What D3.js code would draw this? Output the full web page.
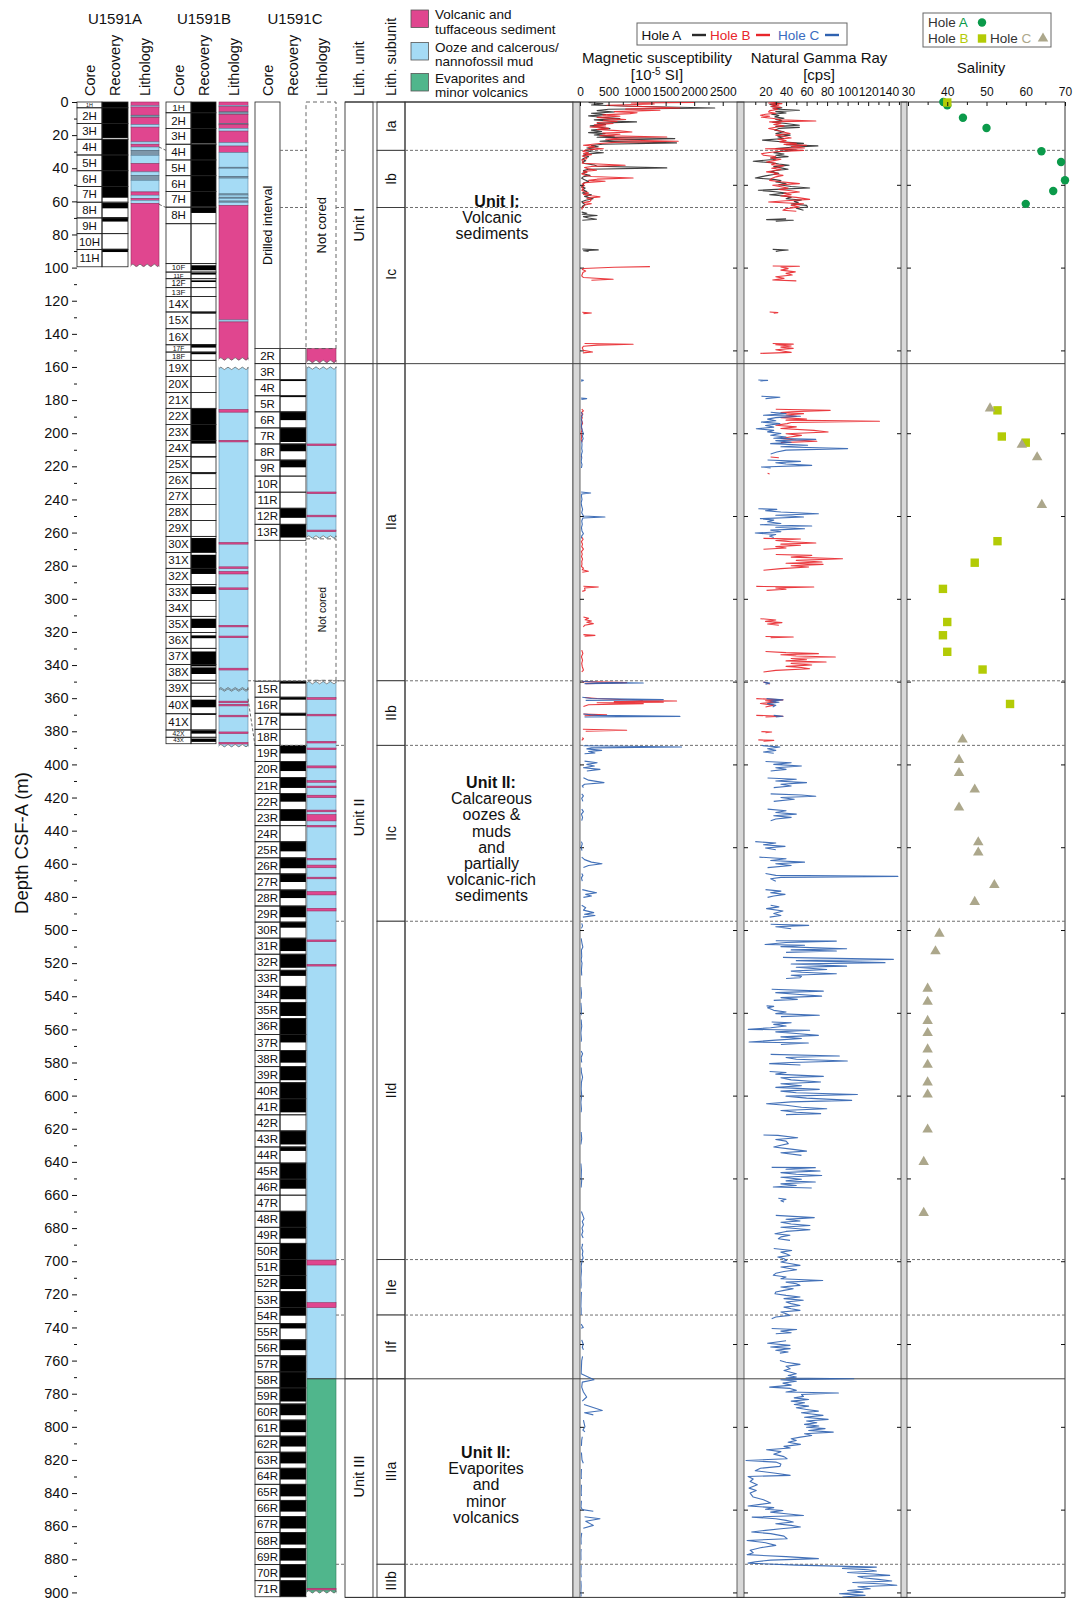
<!DOCTYPE html>
<html>
<head>
<meta charset="utf-8">
<title>Site U1591 lithostratigraphic summary</title>
<script src="https://cdn.jsdelivr.net/npm/d3@7/dist/d3.min.js"></script>
<style>
  html, body { margin: 0; padding: 0; background: #fff; }
  svg text { font-family: "Liberation Sans", Arial, Helvetica, sans-serif; }
</style>
</head>
<body>
<svg id="chart" width="1073" height="1600" viewBox="0 0 1073 1600"></svg>
<script>
// ---------------------------------------------------------------------------
// Data
// ---------------------------------------------------------------------------
const holeNames = ["U1591A", "U1591B", "U1591C"];
const columnTitles = ["Core", "Recovery", "Lithology"];

// Cores: [name, top (m), bottom (m)]
const coresA = [["1H",0,3.5],["2H",3.5,13],["3H",13,22.5],["4H",22.5,32],["5H",32,41.5],["6H",41.5,51],["7H",51,60.5],["8H",60.5,70],["9H",70,79.5],["10H",79.5,89],["11H",89,99.5]];
const coresB = [["1H",0,6.5],["2H",6.5,16],["3H",16,25.5],["4H",25.5,35],["5H",35,44.5],["6H",44.5,54],["7H",54,63.5],["8H",63.5,73.5],["",73.5,97.6],["10F",97.6,102.7],["11F",102.7,106.7],["12F",106.7,112.1],["13F",112.1,117.4],["14X",117.4,126.8],["15X",126.8,136.9],["16X",136.9,146.6],["17F",146.6,151],["18F",151,156],["19X",156,165.7],["20X",165.7,175.4],["21X",175.4,185],["22X",185,194.7],["23X",194.7,204.4],["24X",204.4,214],["25X",214,223.7],["26X",223.7,233.4],["27X",233.4,243],["28X",243,252.7],["29X",252.7,262.3],["30X",262.3,272],["31X",272,281.6],["32X",281.6,291.3],["33X",291.3,301],["34X",301,310.6],["35X",310.6,320.3],["36X",320.3,329.9],["37X",329.9,339.6],["38X",339.6,349.2],["39X",349.2,358.9],["40X",358.9,369.4],["41X",369.4,379.2],["42X",379.2,383.6],["43X",383.6,387.5]];
const coresC = [["2R",148.9,158],["3R",158,167.7],["4R",167.7,177.4],["5R",177.4,187.1],["6R",187.1,196.8],["7R",196.8,206.5],["8R",206.5,216.2],["9R",216.2,225.9],["10R",225.9,235.6],["11R",235.6,245.3],["12R",245.3,255],["13R",255,264.7],
["15R",349.7,359.4],["16R",359.4,369.1],["17R",369.1,378.8],["18R",378.8,388.5],["19R",388.5,398.2],["20R",398.2,407.9],["21R",407.9,417.6],["22R",417.6,427.3],["23R",427.3,437],["24R",437,446.7],["25R",446.7,456.4],["26R",456.4,466.1],["27R",466.1,475.8],["28R",475.8,485.5],["29R",485.5,495.2],["30R",495.2,504.9],["31R",504.9,514.6],["32R",514.6,524.3],["33R",524.3,534],["34R",534,543.7],["35R",543.7,553.4],["36R",553.4,563.1],["37R",563.1,572.8],["38R",572.8,582.5],["39R",582.5,592.2],["40R",592.2,601.9],["41R",601.9,611.6],["42R",611.6,621.3],["43R",621.3,631],["44R",631,640.7],["45R",640.7,650.4],["46R",650.4,660.1],["47R",660.1,669.8],["48R",669.8,679.5],["49R",679.5,689.2],["50R",689.2,698.9],["51R",698.9,708.6],["52R",708.6,718.3],["53R",718.3,728],["54R",728,737.7],["55R",737.7,747.4],["56R",747.4,757.1],["57R",757.1,766.8],["58R",766.8,776.5],["59R",776.5,786.2],["60R",786.2,795.9],["61R",795.9,805.6],["62R",805.6,815.3],["63R",815.3,825],["64R",825,834.7],["65R",834.7,844.4],["66R",844.4,854.1],["67R",854.1,863.8],["68R",863.8,873.5],["69R",873.5,883.2],["70R",883.2,892.9],["71R",892.9,902.6]];
const drilledC = [0, 148.9];
const uncoredC = [264.7, 349.7];

// Recovered intervals: [top, bottom]
const recoveredA = [[0,21.7],[22.6,57.8],[61,64.2],[69.6,72.2],[88.6,90.6]];
const recoveredB = [[0,25.1],[25.5,63.3],[63.6,67],[98.6,101.6],[103.2,104.2],[107.7,108.7],[126.8,127.8],[146.3,148.3],[151,152.3],[185.2,206.3],[214.1,214.7],[224.1,224.7],[263.3,271.8],[273.4,285],[292.5,297.1],[312,317.6],[322.1,323.8],[331.8,340.8],[341.4,345.4],[350.6,351.2],[360.9,365.5],[369.5,370.1],[379.4,381.4],[384.4,386.4]];
const recoveredC = [[167.7,168.5],[177.4,178.2],[187.1,192.1],[196.8,205.3],[206.5,210.9],[216.2,220.6],[245.3,251.1],[255,263],[349.7,351.2],[359.4,360.9],[369.1,370.6],[388.5,393.4],[398.2,404],[407.9,414.2],[417.6,422.5],[427.3,434.1],[446.7,452.5],[456.4,462.7],[466.1,471],[475.8,480.7],[485.5,492.3],[495.2,498.6],[504.9,512.7],[514.6,522.8],[524.3,527.7],[534,541.8],[543.7,551.9],[553.4,567.9],[572.8,580.1],[582.5,590.7],[592.2,610.1],[621.3,629.5],[631,633.4],[640.7,650.4],[650.4,656.2],[669.8,686.3],[689.2,716.8],[718.3,728],[728,732.9],[737.7,740.6],[747.4,753.7],[757.1,784.7],[786.2,793],[795.9,803.2],[805.6,811.9],[815.3,822.1],[825,831.8],[834.7,842],[844.4,851.2],[854.1,861.4],[863.8,871.1],[873.5,880.8],[883.2,891],[892.9,902.6]];

// Lithology intervals: [top, bottom, kind]  v = volcanic/tuffaceous, o = ooze/mud, e = evaporite, g = mixed dark bands
const lithA = [[0,2.3,"v"],[2.3,3,"o"],[3,8,"v"],[8,9.4,"g"],[9.4,13.7,"v"],[13.7,15.2,"o"],[15.2,24.1,"v"],[24.1,25.5,"o"],[25.5,27.2,"v"],[27.2,29.2,"o"],[29.2,32.2,"g"],[32.2,37.2,"o"],[37.2,42.2,"v"],[42.2,44.3,"o"],[44.3,47.3,"g"],[47.3,54.3,"o"],[54.3,56.3,"v"],[56.3,58.3,"o"],[58.3,59.4,"v"],[59.4,61.2,"o"],[61.2,99.5,"v"]];
const lithB = [[0,2,"v"],[2,2.8,"o"],[2.8,6,"v"],[6,7.5,"g"],[7.5,13,"v"],[13,13.6,"g"],[13.6,16,"v"],[16,17.6,"o"],[17.6,24.6,"v"],[24.6,26.6,"o"],[26.6,30.6,"v"],[30.6,39.4,"o"],[39.4,40,"g"],[40,45,"o"],[45,46,"g"],[46,55.5,"o"],[55.5,56.2,"g"],[56.2,57.5,"o"],[57.5,58.2,"g"],[58.2,59.8,"o"],[59.8,60.6,"g"],[60.6,62.5,"o"],[62.5,131.6,"v"],[131.6,132.8,"o"],[132.8,156,"v"],
  [160,389.5,"o"],[185.7,187.3,"v"],[204.3,205,"v"],[266,266.8,"v"],[280.7,281.5,"v"],[283.5,285,"v"],[293.4,294,"v"],[316,316.8,"v"],[322.5,323.3,"v"],[341.9,343,"v"],[361.8,362.6,"v"],[363.7,364.3,"v"],[370.3,371.1,"v"],[380.4,381,"v"],[386.7,387.3,"v"]];
const lithC = [[148.9,157.5,"v"],[159.8,263.5,"o"],[206.5,207.3,"v"],[235.5,236.3,"v"],[249.5,250.5,"v"],[258.5,259.3,"v"],
  [349.8,771,"o"],[359.7,360.5,"v"],[369.7,370.7,"v"],[386.1,386.9,"v"],[390.1,390.7,"v"],[400.9,402.1,"v"],[409.8,410.4,"v"],[413.1,413.9,"v"],[418.6,420,"v"],[427.6,428.6,"v"],[430.3,434.1,"v"],[436.8,437.4,"v"],[456.7,457.3,"v"],[460.8,462.4,"v"],[468.1,468.7,"v"],[476.8,478.8,"v"],[486.9,488.5,"v"],[506,507,"v"],[520.8,521.4,"v"],[699.3,702.3,"v"],[725,728,"v"],
  [771,900.5,"e"],[897.5,898.5,"v"]];

// Lithostratigraphic units and subunits
const unitNames = ["Unit I", "Unit II", "Unit III"];
const unitTops = [0, 158, 771];
const subunitNames = ["Ia","Ib","Ic","IIa","IIb","IIc","IId","IIe","IIf","IIIa","IIIb"];
const subunitTops = [0, 29.2, 63.7, 158, 349.5, 388.5, 494.7, 699, 732.5, 771, 883];
const bottomDepth = 903;

const unitText = [
  ["Unit I:", "Volcanic", "sediments"],
  ["Unit II:", "Calcareous", "oozes &", "muds", "and", "partially", "volcanic-rich", "sediments"],
  ["Unit II:", "Evaporites", "and", "minor", "volcanics"]
];
const legendLabels = [["Volcanic and", "tuffaceous sediment"], ["Ooze and calcerous/", "nannofossil mud"], ["Evaporites and", "minor volcanics"]];

// Magnetic susceptibility [10^-5 SI]: segments of [depth, value]
const msHoleA = [
  [[0.3,150],[1,400],[1.8,200],[2.6,900],[3.6,2360],[4.4,500],[5.2,300],[6,600],[6.8,200],[7.6,450],[8.4,150],[9.2,380],[10,700],[10.8,250],[11.5,500],[12,990],[12.8,300],[13.6,450],[14.4,180],[15.2,350],[16.1,525],[17,200],[17.8,380],[18.5,150],[19.1,440],[19.9,250],[20.6,600],[21.3,300],[22.1,1660],[22.9,600],[23.7,350],[24.7,1690],[25.5,400],[26.3,200],[27,320],[27.8,120],[28.5,250],[29.3,80],[30,200],[30.6,410],[31.4,120],[32.2,60],[33,150],[33.8,80],[34.6,40],[35.5,100],[36.3,40],[37.1,80],[38,250],[38.8,300],[39.8,1520],[40.6,150],[41.4,60],[42.2,120],[43,40],[43.6,90],[44.3,175],[45.1,60],[46,30],[47,80],[48,150],[49,60],[50.3,60],[51.2,30],[52,90],[53,50],[54,120],[55,40],[56,200],[57,80],[58.4,230],[59.3,100],[60.2,30],[61,50],[62,90],[63,40],[64,60]],
  [[66.5,30],[67.2,120],[67.8,40],[68.5,300],[69.2,60],[70,150],[70.8,290],[71.4,40]],
  [[88.8,40],[89.3,320],[89.8,60],[90.3,150]]
];
const msHoleB = [
  [[0.2,2010],[0.6,900],[1.2,1300],[2,470],[2.8,1100],[3.6,1750],[4.3,800],[5,1400],[5.8,600],[6.5,1000],[7,875],[7.8,400],[8.6,700],[9.3,300],[10,525],[10.6,800],[11,410],[11.8,650],[12.4,300],[13,580],[13.8,250],[14.5,450],[15.1,175],[15.9,500],[16.6,300],[17.3,650],[18.1,910],[18.8,400],[19.5,700],[20.3,350],[21.1,1520],[21.8,700],[22.5,450],[23.1,900],[23.7,1720],[24.4,600],[25.2,300],[26.1,60],[26.8,250],[27.5,150],[28.2,410],[29,100],[29.8,50],[30.6,150],[31.2,60],[31.8,200],[32.6,40],[33.4,100],[34.2,120],[35,30],[36,60],[37,40],[38.2,790],[38.9,200],[39.6,80],[40.4,150],[41.2,290],[41.9,60],[42.6,120],[43.4,30],[44.2,80],[45,200],[45.9,930],[46.6,300],[47.3,150],[47.9,440],[48.7,90],[49.5,40],[50.5,80],[51.5,30],[52.5,60],[53.3,30],[54.2,80],[55,150],[55.8,60],[56.6,200],[57.3,350],[58.1,120],[59,200],[60,175],[60.7,60],[61.4,200],[62.2,80],[63.4,60],[64.2,30],[65,40]],
  [[99.4,1225],[99.8,600],[100.5,60],[101.2,40],[102,100],[103,50],[104,40],[105,30],[106,60],[107,580],[107.6,200]],
  [[127,40],[127.4,200],[127.8,60]],
  [[145.8,80],[146.3,930],[146.8,300],[147.5,60],[148.5,40],[150,60],[151,220],[151.5,50]],
  [[185.5,30],[186.5,60],[187.5,25],[188.5,50],[189.5,20],[190.5,40],[192,25],[194,45],[196,20],[198,35],[200,15],[202,30],[204,20],[205.5,40]],
  [[213.8,20],[214.6,30]],
  [[262.7,30],[264,55],[265.5,25],[267,45],[268.5,30],[270,60],[271.5,25],[273,40],[274.5,25],[276,45],[277.5,30],[279,35],[280.5,25],[281.5,60],[282.5,40],[283.4,146],[284,40]],
  [[292.4,60],[292.9,321],[293.5,80],[294.9,90],[295.5,40]],
  [[311,60],[311.8,150],[312.6,90],[313.4,200],[314.2,120],[315,233],[316,80],[317,60]],
  [[321.6,60],[322.1,262],[322.6,80]],
  [[331,30],[333,50],[335,25],[337,45],[339,30],[341,40],[343,60],[344.2,30]],
  [[350,40],[350.6,817],[351.2,100]],
  [[359.6,80],[360.2,300],[360.8,700],[361.4,1100],[361.7,1692],[362.1,600],[362.4,1458],[362.8,300],[363.3,1108],[364,150],[365,60]],
  [[369.6,60],[370.1,467],[370.6,80]],
  [[378.8,50],[379.4,817],[380,100]],
  [[383.8,40],[384.5,60],[385.5,30]]
];
const msHoleC = [
  [[167.8,20],[168.1,58],[168.6,20]],
  [[178.8,20],[179.1,117],[179.6,25]],
  [[187.3,25],[189,40],[191,20],[193,35],[195,25],[197,30],[199,45],[200.3,60],[201.5,40],[203.3,55],[205,30],[207,35],[209.3,30],[211,40],[213,25],[215,30],[217,20],[219,35],[221,25]],
  [[235.5,20],[236.1,187],[236.7,30],[238,25],[240,35],[242,20],[244,30],[246,45],[248,30],[250,60],[250.6,437],[251.2,50],[253,30],[255,40],[257,25],[259,35],[260.7,60],[262,30],[263.5,25]],
  [[349.8,40],[350.4,300],[350.8,1108],[351.2,80]],
  [[359.4,40],[360.2,200],[360.9,1458],[361.3,100]],
  [[369.6,60],[370.4,300],[371,1750],[371.4,80]],
  [[388.7,60],[389.5,1779],[390,200],[390.6,120],[391.5,379],[392.2,150],[393.1,262],[393.6,80]],
  [[398,80],[399,300],[400,120],[401,250],[402,60],[403,350],[404,120]],
  [[408,60],[409.5,150],[411,420],[412,80],[413,40],[414,60]],
  [[417.8,30],[419,60],[420.5,30],[422.3,50]],
  [[427,30],[428.5,60],[430,25],[432,45],[434,30]],
  [[446.6,25],[448,40],[450,20],[452,35]],
  [[456,30],[457.5,80],[459,200],[460,385],[461,150],[462.3,60]],
  [[465.9,30],[467,50],[468.5,25],[470.5,40]],
  [[475.6,40],[476.5,150],[477.5,290],[478.5,100],[479.5,200],[480.3,60]],
  [[485,30],[486.5,100],[488,60],[489.5,240],[490.5,80],[491.2,262],[492.2,50]],
  [[496,30],[497.5,45],[499,25]],
  [[505,20],[508,35],[510.3,50],[512,25],[516,30],[518,20],[520,35],[524,25],[527.5,30]],
  [[534.5,15],[538,25],[541.5,20]],
  [[544,15],[548,25],[551.5,20]],
  [[554,20],[558,30],[562,15],[566,25],[567.5,20]],
  [[573,20],[574.7,45],[577,20],[580,30]],
  [[583,20],[586,25],[588.8,45],[592,25],[596,20],[600,30],[604,15],[608,25],[610,20]],
  [[622,20],[626,30],[629.5,15]],
  [[641,15],[645,25],[650,20],[651,30],[655.5,20]],
  [[670,25],[674.3,70],[676,40],[678,60],[680,35],[682,50],[684,30],[686,55]],
  [[689.5,35],[690,45],[692,30],[694,50],[696,40],[698,55],[699.5,35],[701,30],[703,20],[706,25],[710,15],[714,20],[716.5,15]],
  [[718.5,25],[722,20],[727.5,15],[728.5,20],[732.5,20]],
  [[738,20],[740,58],[740.5,20]],
  [[747.5,30],[750,55],[752,40],[753.5,60]],
  [[757.5,45],[760,30],[764,25],[768,20],[771.6,245],[773,40],[776,30],[779,60],[782,117],[784.5,40]],
  [[786.5,70],[790.1,391],[791.5,80],[792.8,233]],
  [[796,60],[800,87],[802,50],[803,87]],
  [[806,40],[808,30],[811.5,25]],
  [[815.5,25],[820,35],[822,58]],
  [[825.5,25],[830,20],[831.5,25]],
  [[835,25],[840,20],[841.8,25]],
  [[844.6,25],[848.4,17],[850,40],[851,233]],
  [[854.3,80],[855.5,350],[857,100],[859.5,233],[861.2,58]],
  [[864,30],[867.6,17],[871,20]],
  [[873.8,20],[876,15],[880.6,17]],
  [[883.5,20],[888,15],[890.8,20]],
  [[893,15],[896,20],[900,15],[902.5,20]]
];

// Natural gamma ray [cps]: segments of [depth, value]
const ngrHoleA = [
  [[0.3,28],[0.8,34],[1.4,24],[2,30],[2.8,26],[3.5,36],[4.2,28],[5,53],[5.8,30],[6.6,40],[7.4,26],[8.2,33],[9,29],[9.8,38],[10.6,30],[11.4,36],[12.2,27],[13,40],[14,53],[14.7,30],[15.3,53],[16,33],[17,29],[18,38],[19,30],[20,44],[21,32],[22,38],[23,17],[24,35],[25,57],[25.8,40],[26.5,71],[27.3,45],[28.1,30],[29,50],[29.8,35],[30.6,28],[31.4,38],[32.2,30],[33,42],[33.8,25],[34.6,30],[35.8,8],[36.6,25],[37.4,33],[38.2,43],[39,28],[39.8,35],[40.6,42],[41.4,30],[42.2,25],[43,33],[43.8,28],[44.6,20],[45.9,10],[46.7,28],[47.5,35],[48.3,30],[49.1,40],[50,33],[51,45],[51.9,63],[52.6,35],[53.3,13],[54.2,30],[55,40],[56,24],[56.8,38],[57.6,45],[58.4,40],[59.2,55],[60,48],[60.8,52],[61.6,45],[62.4,60],[63.4,61],[64.2,50],[65.4,57]],
  [[70.6,40],[71,21],[71.4,47],[72,30]],
  [[89,27],[89.4,42],[89.8,34],[90.2,30]]
];
const ngrHoleB = [
  [[0.2,30],[0.6,23],[1,36],[1.5,26],[2,33],[2.6,25],[3.2,35],[3.8,27],[4.5,32],[5.2,24],[6,23],[6.8,30],[7.4,20],[8,15],[8.6,24],[9.2,16],[10,28],[10.8,35],[11.5,69],[12,24],[12.8,35],[13.6,28],[14.4,38],[15.2,30],[16,23],[17,31],[18,36],[19,44],[20,30],[20.8,38],[21.7,45],[22.5,32],[23.3,40],[24.1,34],[25,50],[25.6,38],[26.1,60],[26.9,45],[27.8,58],[28.2,20],[28.7,40],[29.2,57],[30,30],[30.6,22],[31.2,16],[32.2,18],[33,30],[33.8,25],[34.6,35],[35.4,28],[36.2,21],[37,30],[37.8,26],[38.5,38],[39.2,34],[40,26],[40.8,35],[41.5,28],[42.2,21],[43,32],[43.6,28],[44.3,37],[45.2,30],[46.2,26],[47.3,24],[48.2,35],[49.3,53],[50.3,27],[51.2,35],[52,42],[52.8,33],[53.6,45],[54.3,53],[55.2,38],[56,45],[56.8,35],[57.6,50],[58.8,63],[59.6,40],[60.4,23],[61.4,57],[62.4,45],[63.4,53],[64.4,40],[65.4,37],[66,50]],
  [[99,27],[99.2,53],[99.6,35],[100.6,42],[101.5,35],[102.6,49],[103.5,40],[104.5,46],[105.5,30],[106.5,38],[107.5,27],[108,50]],
  [[126.8,24],[127.2,32],[127.6,28]],
  [[145.8,27],[146.2,47],[146.6,30],[147.3,45],[148,35],[148.8,47],[149.6,30],[150.5,38],[151.2,45],[151.8,15]],
  [[185.5,30],[186.2,83],[187,45],[187.6,35],[188.2,57],[189,40],[189.8,50],[190.6,35],[191.4,60],[192.1,40],[192.8,131],[193.5,45],[194.2,41],[195.2,30],[196.2,50],[197.2,35],[198.3,67],[199.3,81],[200.3,40],[201.3,55],[202.3,44],[203.2,35],[204.1,50],[204.9,70],[205.7,35]],
  [[214.4,25],[214.8,33]],
  [[224.2,22],[224.6,24]],
  [[263.5,18],[263.9,54],[264.8,30],[265.5,45],[266.3,69],[267,35],[267.7,54],[268.5,30],[269.3,40],[270.1,18]],
  [[273.2,30],[273.8,65],[274.8,45],[275.8,95],[276.8,50],[277.8,75],[278.5,40],[279.2,76],[280,45],[280.8,62],[281.8,35],[282.8,18]],
  [[292.5,11],[292.9,67],[293.5,30],[294.2,40],[294.9,21]],
  [[312,15],[312.8,30],[313.6,20],[314.4,36],[315.2,22],[316,33]],
  [[322.8,20],[323.1,47],[323.5,25]],
  [[331.8,20],[332.5,40],[333.1,71.5],[333.8,35],[334.5,50],[335.1,88],[336,45],[336.8,60],[337.5,40],[338.2,79],[339,45],[340,65],[340.8,40],[341.5,55],[342.2,63],[343.2,30],[344.2,18]],
  [[350.3,18],[350.9,22],[351.6,24]],
  [[360.3,11],[361,37],[361.6,20],[362.4,30],[363.2,15],[364.2,28],[365.3,20]],
  [[370.4,11],[370.9,37],[371.4,20]],
  [[380.2,16],[380.4,26],[380.8,20]],
  [[385.2,13],[385.5,28],[386,18]]
];
const ngrHoleC = [
  [[167.9,13],[168.1,22],[168.4,15]],
  [[177.7,16],[178.3,34],[179.1,20]],
  [[187.3,25],[188.2,40],[189.2,18],[189.8,54],[190.6,30],[191.5,22],[192.5,30],[193.3,16],[194.2,34],[195.3,20],[196.3,28],[197.3,11],[198.3,28],[199.2,22],[200.2,35],[201.2,25],[202.3,40],[203,28],[203.7,69],[204.5,30],[205.5,45],[206.3,25],[207.3,61],[208.2,35],[209.3,100],[210.2,40],[211.4,31],[212.5,25]],
  [[216.2,22],[217,54],[217.8,30],[218.6,40],[219.4,65],[220.4,16],[221,25]],
  [[245.6,13],[246,31],[246.8,20],[247.6,35],[248.6,71.5],[249.5,30],[250.6,57],[251.6,15],[252.5,28],[253.5,22],[254.5,35],[255.3,15],[256,65],[256.8,30],[257.7,58],[258.5,25],[259.5,35],[260.3,10],[261.2,30],[262.1,24],[263,28]],
  [[350.3,18],[350.9,24],[351.6,20]],
  [[360.3,21],[361,37],[361.7,25],[362.5,33],[363.3,22],[364.3,30],[365.3,27]],
  [[370.4,28],[370.9,37],[371.4,30]],
  [[388.6,16],[389.5,34],[390.5,22],[391.5,30],[392.5,18],[393.3,28]],
  [[398.2,20],[399,45],[400,28],[401,55],[402,30],[403,40],[404,25]],
  [[408.2,22],[409,50],[410,30],[411,60],[412,35],[413,45],[414,28]],
  [[417.8,25],[418.5,55],[419.2,69],[420,35],[421,48],[422.3,28]],
  [[427,22],[428,40],[429,30],[430,50],[431,28],[432,45],[433,30],[434,25]],
  [[446.6,10],[447.5,30],[448.5,18],[449.5,39],[450.5,20],[451.5,30]],
  [[456,14],[457,40],[458,25],[459,58],[460,30],[461,45],[462.3,22]],
  [[465.9,20],[467,30],[467.6,149],[468.2,35],[469,25],[470.5,30]],
  [[475.6,20],[476.5,35],[477.5,25],[478.5,39],[479.5,28],[480.3,22]],
  [[485,25],[486,33],[487.1,21],[488.5,37],[490,28],[491.2,35],[492.2,24]],
  [[496.5,25],[497.2,62],[498,30],[499.2,45]],
  [[506.5,30],[506.7,89],[507.5,40],[508.7,19.5],[509.2,58],[510,35],[511.3,99],[512,45],[512.7,89],[513.5,40]],
  [[516.5,37],[516.7,48],[517.7,144.6],[518.5,50],[519.7,136.4],[520.5,45],[521.8,99],[522.5,50],[523.8,79.6],[524.8,45],[525.5,55],[526.4,89],[527.3,45],[528,55],[528.8,53.6],[529.3,40]],
  [[535.8,26],[536.9,76.3],[537.8,30],[538.8,50],[539.9,74.7],[540.8,35],[541.9,51],[542.5,28]],
  [[545.8,21],[546.1,28],[547,22],[548.5,28],[549.5,40],[550.5,30],[551.5,72.4],[552.3,35]],
  [[555.5,26],[556,45],[557,28],[558,40],[559,25],[560,3.2],[560.5,63],[561.5,30],[562.5,50],[563.6,71.5],[564.5,35],[565.5,55],[566.5,30],[567.6,4],[568.2,61.7],[569.1,35]],
  [[575.1,25],[576.1,91.9],[577,40],[578,50],[579.1,99.7],[580,45],[580.7,24],[581.5,54]],
  [[585.4,24],[586,40],[587,30],[588.4,76.3],[589.2,35],[590.5,45],[591.8,73.7],[592.8,35],[594,55],[595,30],[596.2,72.4],[597.3,35],[598.3,50],[599.3,109.5],[600.3,40],[601.5,60],[602.9,103.9],[603.8,45],[604.9,21],[605.8,40],[607,55],[607.9,79.6],[609,35],[610,50],[610.9,73.7],[611.5,40]],
  [[623.8,18],[624,32],[625.4,51.3],[626.5,30],[627.5,40],[629,42.2],[630,35],[631,28],[632.3,45],[633.5,60],[634.5,35],[636.1,55]],
  [[643.3,26],[643.5,68.5],[644.5,40],[645.5,73.1],[646.5,35],[647.5,50],[648.2,74.7],[649.3,35],[650.5,55],[651.5,40],[652.2,68.5],[653.3,35],[654.3,50],[655.2,27.6],[655.8,65]],
  [[662,32.5],[662.6,40],[663.5,35],[664.3,38]],
  [[672.3,30],[673.7,67.5],[674.7,40],[675.7,53.6],[676.5,35],[677.5,45],[678.4,63.3],[679.5,35],[681,63.3],[682,40],[683.4,29.2],[684.3,43.8],[685.3,35],[686.4,32.5],[687.4,43.8]],
  [[692.3,28],[693.5,45.5],[694.5,35],[695.5,40],[696.5,43.8],[697.5,32],[698.5,38],[699.5,40.6],[700.5,35],[701.5,45],[702.5,53.6],[703.5,35],[705.1,50.3],[706.2,38],[707.3,30],[708.5,27.6],[709.5,40],[710.6,35],[711.6,75.7],[712.6,40],[713.6,50],[714.6,53.6],[715.6,35],[716.6,47],[717.6,38],[718.6,30],[719.6,29.2],[720.6,40],[721.6,53.6],[722.6,38],[723.6,56.8],[724.6,40],[725.6,45],[726.7,53.6],[727.7,38],[728.7,45],[729.7,53.6],[730.7,35],[731.7,40],[732.7,43.8],[733.7,30],[734.7,26]],
  [[740.6,26],[741.2,50.3],[742.2,35],[743.2,45],[743.8,30]],
  [[748,40],[749.5,22],[750.8,43.8],[751.8,25],[752.8,44],[753.8,30],[754.8,42],[755.5,34]],
  [[760,34],[761,40],[762.3,53.6],[763.5,40],[764.9,44],[766,38],[767.9,50],[769,42],[769.9,50],[770.5,40],[771,106],[771.6,35],[772.5,50],[773.6,37],[774.8,45],[776,24],[776.8,44],[778,50],[779,40],[779.6,91],[780.5,55],[781.6,57],[782.5,48],[783.5,62],[784.5,45],[785.5,58],[786.5,48],[787.5,62],[788.5,50],[789.5,60],[790.5,71.5],[791.5,55],[792.3,65],[793.1,76],[794.2,58],[795.5,81],[796.5,60],[797.5,70],[798.5,58],[799.5,72],[800.3,60],[801.1,78],[802.2,62],[803.2,86],[804.2,58],[805.2,65],[806.2,54],[807.2,45],[808.2,50],[809.3,42],[810.6,54],[811.8,38],[812.8,44],[813.8,21],[815,35],[816.5,28],[818,38],[819.3,41],[820.3,1],[821.3,30],[822.5,35],[823.9,34],[825,15],[826.5,10],[828,30],[829.3,44],[830,3],[831.5,8],[833,5],[835,12],[837,4],[838.4,11],[840,5],[842.4,8],[844,18],[846,25],[847.8,3],[848.8,28],[849.8,20],[850.5,37],[851.5,25],[852.5,40],[853.5,57],[854.5,7],[855.5,30],[856.5,40],[857.5,47],[858.5,30],[859.5,45],[860.5,54],[861.5,35],[862.5,20],[863.5,6.5],[864.5,25],[866,38],[867.6,41],[868.6,2],[870,20],[871.6,30],[873,15],[874.5,5],[876,8],[877.2,2],[878.4,40],[879.6,71.5],[880.5,25],[881.5,10],[882.3,3],[883.5,50],[884.7,128],[885.5,95],[886.3,120],[887.1,128],[888,100],[888.9,125],[889.7,141],[890.4,110],[891.1,115],[892.1,130],[893.1,143],[894,105],[894.9,135],[895.7,148],[896.6,110],[897.8,122],[898.8,100],[899.8,115],[900.8,92],[901.8,117],[902.8,95]]
];

// Salinity: [depth, value]
const salinityA = [[0,39],[2,40],[9.5,44],[15.7,50],[29.7,64],[36.2,69],[47.2,70],[53.7,67],[61.5,60]];
const salinityB = [[0.3,40],[186.2,52.8],[202,53.9],[205.7,60],[265.2,52.8],[278.2,47],[294,38.9],[314,40],[322,38.9],[332,40],[342.7,49],[363.5,56]];
const salinityC = [[185,50.9],[207,59],[214.5,62.9],[243.3,64.1],[385,43.9],[397.3,43],[405.2,43],[415.2,47],[426,43],[447,47.9],[453.2,47.9],[472.8,52],[483,47],[502.2,38],[512.8,37],[535.4,35],[543.3,35],[554.9,35],[562.2,35],[572.1,35],[581.4,35],[592,35],[599.3,35],[620.5,35],[640,34],[670.8,34]];

// Axis ticks
const depthTicks = d3.range(0, 901, 20);
const msTicks = [0, 500, 1000, 1500, 2000, 2500];
const ngrTicks = [20, 40, 60, 80, 100, 120, 140];
const salTicks = [30, 40, 50, 60, 70];

// ---------------------------------------------------------------------------
// Layout and scales
// ---------------------------------------------------------------------------
const svg = d3.select("#chart");
const depth = d3.scaleLinear().domain([0, bottomDepth]).range([102, 1597.4]);
const xMS = d3.scaleLinear().domain([0, 2750]).range([580, 737]);
const xNGR = d3.scaleLinear().domain([0, 152]).range([745, 901]);
const xSal = d3.scaleLinear().domain([30, 70]).range([908, 1065]);

const X = {
  coreA: [77, 102], recA: [102, 128], lithA: [131, 159],
  coreB: [166, 191], recB: [191, 216], lithB: [219, 248],
  coreC: [255, 280], recC: [280, 306], lithC: [307, 336],
  unit: [345, 373], sub: [377, 405], desc: [405, 573],
  barMS: [573, 580], barNGR: [737, 744], barSal: [901, 907],
  ms: [580, 737], ngr: [744, 901], sal: [907, 1065]
};
const TOP = depth(0), BOT = depth(bottomDepth);
const FILL = { v: "#e0468f", o: "#a5dbf5", e: "#50b68c", g: "#7d97aa" };
const EDGE = { v: "#98305f", o: "#5d88a2", e: "#2f7c5d", g: "#4d6577" };
const RED = "#e8262b", BLUE = "#2f62b0", GREEN = "#0b9a4a", LIME = "#b3cb06", TAN = "#aca78b";

const base = svg.append("g");
const mid = svg.append("g");
const over = svg.append("g");

function rect(g, x0, x1, d0, d1, fill, stroke, sw) {
  return g.append("rect")
    .attr("x", x0).attr("y", depth(d0))
    .attr("width", x1 - x0).attr("height", Math.max(depth(d1) - depth(d0), 0.5))
    .attr("fill", fill).attr("stroke", stroke || "none").attr("stroke-width", sw || 0);
}
function hline(g, x0, x1, d, color, width, dash) {
  const l = g.append("line").attr("x1", x0).attr("x2", x1)
    .attr("y1", depth(d)).attr("y2", depth(d))
    .attr("stroke", color).attr("stroke-width", width);
  if (dash) l.attr("stroke-dasharray", dash);
  return l;
}
function vtext(g, x, yy, str, size, anchor) {
  return g.append("text")
    .attr("transform", `translate(${x},${yy}) rotate(-90)`)
    .attr("text-anchor", anchor || "middle")
    .attr("dominant-baseline", "central")
    .attr("font-size", size).attr("fill", "#111").text(str);
}

// ---------------------------------------------------------------------------
// Core, recovery and lithology columns
// ---------------------------------------------------------------------------
function drawHole(cores, recovered, cx, rx) {
  const g = base.append("g");
  cores.forEach(([, t, b]) => {
    rect(g, cx[0], cx[1], t, b, "#fff");
    rect(g, rx[0], rx[1], t, b, "#fff");
  });
  recovered.forEach(([t, b]) => rect(g, rx[0], rx[1], t, b, "#000"));
  cores.forEach(([name, t, b]) => {
    rect(g, cx[0], cx[1], t, b, "none", "#222", 0.8);
    rect(g, rx[0], rx[1], t, b, "none", "#222", 0.8);
    if (name) {
      // short cores get a smaller label so it stays inside its box
      const h = depth(b) - depth(t);
      g.append("text").attr("x", (cx[0] + cx[1]) / 2).attr("y", depth((t + b) / 2))
        .attr("text-anchor", "middle").attr("dominant-baseline", "central")
        .attr("font-size", Math.min(11.5, h * 0.92)).attr("fill", "#111").text(name);
    }
  });
}
drawHole(coresA, recoveredA, X.coreA, X.recA);
drawHole(coresB, recoveredB, X.coreB, X.recB);
drawHole(coresC, recoveredC, X.coreC, X.recC);

// Hole C intervals that were drilled without coring
rect(base, X.coreC[0], X.coreC[1], drilledC[0], drilledC[1], "#fff", "#222", 0.8);
vtext(base, (X.coreC[0] + X.coreC[1]) / 2, depth((drilledC[0] + drilledC[1]) / 2), "Drilled interval", 12.5);
rect(base, X.coreC[0], X.coreC[1], uncoredC[0], uncoredC[1], "#fff", "#222", 0.8);

function drawLith(list, cx) {
  const g = base.append("g");
  list.forEach(([t, b, k]) => {
    const y0 = depth(t), h = Math.max(depth(b) - y0, 1.6);
    g.append("rect").attr("x", cx[0]).attr("y", y0).attr("width", cx[1] - cx[0]).attr("height", h)
      .attr("fill", FILL[k]).attr("stroke", EDGE[k]).attr("stroke-width", 0.6);
  });
}
drawLith(lithA, X.lithA);
drawLith(lithB, X.lithB);
drawLith(lithC, X.lithC);

// wavy edge: side "below" trims beneath the wave, "above" trims above it
function wave(cx, d, side, fillCut) {
  const yy = depth(d) + (side === "below" ? -1.4 : side === "above" ? 1.4 : 0);
  const step = 3.6, amp = 2.4;
  let p = `M${cx[0]},${yy}`;
  for (let x = cx[0], i = 0; x < cx[1] - 0.01; x += step, i++) {
    const nx = Math.min(x + step, cx[1]);
    p += ` Q${(x + nx) / 2},${yy + (i % 2 ? amp : -amp)} ${nx},${yy}`;
  }
  if (fillCut !== false) {
    const off = side === "below" ? 4 : -4;
    base.append("path").attr("d", p + ` L${cx[1] + 0.6},${yy + off} L${cx[0] - 0.6},${yy + off} Z`).attr("fill", "#fff");
  }
  base.append("path").attr("d", p).attr("fill", "none").attr("stroke", "#5a5a5a").attr("stroke-width", 0.7);
}
wave(X.lithA, 99.5, "below");
wave(X.lithB, 156, "below");
wave(X.lithB, 160, "above");
wave(X.lithB, 389.5, "below");
wave(X.lithB, 354.3, "mid", false);
wave(X.lithB, 355.1, "mid", false);
wave(X.lithC, 157.5, "below");
wave(X.lithC, 159.8, "above");
wave(X.lithC, 263.5, "below");
wave(X.lithC, 349.8, "above");
wave(X.lithC, 900.5, "below");

// "Not cored" boxes in the hole C lithology column
[[0, 148.9, 13], [263.8, 349.2, 10.5]].forEach(([t, b, fs]) => {
  rect(base, X.lithC[0] - 1, X.lithC[1], t, b, "none", "#555", 0.9).attr("stroke-dasharray", "4,3");
  vtext(base, (X.lithC[0] + X.lithC[1]) / 2, depth((t + b) / 2), "Not cored", fs);
});

// ---------------------------------------------------------------------------
// Lithostratigraphic unit and subunit columns
// ---------------------------------------------------------------------------
const unitLabelDepth = [74, 432, 830];
unitNames.forEach((name, i) => {
  const t = unitTops[i], b = i + 1 < unitTops.length ? unitTops[i + 1] : bottomDepth;
  rect(base, X.unit[0], X.unit[1], t, b, "#fff", "#333", 0.9);
  vtext(base, (X.unit[0] + X.unit[1]) / 2, depth(unitLabelDepth[i]), name, 14.5);
});
subunitNames.forEach((name, i) => {
  const t = subunitTops[i], b = i + 1 < subunitTops.length ? subunitTops[i + 1] : bottomDepth;
  rect(base, X.sub[0], X.sub[1], t, b, "#fff", "#333", 0.9);
  const ld = name === "Ic" ? 104 : (t + b) / 2;
  vtext(base, (X.sub[0] + X.sub[1]) / 2, depth(ld), name, 14);
});

// description column frame
rect(base, X.desc[0], X.desc[1], 0, bottomDepth, "none", "#333", 0.9);

// unit descriptions
const descCenters = [[497, 207, 492], [491, 788, 491.5], [486, 1458, 486]];
unitText.forEach((lines, i) => {
  const [xh, y0, xb] = descCenters[i];
  lines.forEach((s, j) => {
    base.append("text").attr("x", j === 0 ? xh : xb).attr("y", y0 + j * 16.2)
      .attr("text-anchor", "middle").attr("font-size", 16)
      .attr("font-weight", j === 0 ? "bold" : "normal").attr("fill", "#111").text(s);
  });
});

// ---------------------------------------------------------------------------
// Log panels
// ---------------------------------------------------------------------------
[X.barMS, X.barNGR, X.barSal].forEach(b => rect(base, b[0], b[1], 0, bottomDepth, "#d8d8d8", "#555", 0.9));
base.append("line").attr("x1", X.unit[0]).attr("x2", X.sal[1]).attr("y1", TOP).attr("y2", TOP).attr("stroke", "#333").attr("stroke-width", 1);
base.append("line").attr("x1", X.unit[0]).attr("x2", X.sal[1]).attr("y1", BOT).attr("y2", BOT).attr("stroke", "#333").attr("stroke-width", 1);
base.append("line").attr("x1", X.sal[1]).attr("x2", X.sal[1]).attr("y1", TOP).attr("y2", BOT).attr("stroke", "#333").attr("stroke-width", 1);

// subunit (dashed) and unit (solid) boundaries
const dashedSpans = [[X.desc[0], X.desc[1]], [X.ms[0], X.ms[1]], [X.ngr[0] + 1, X.ngr[1]], [X.sal[0], X.sal[1]]];
subunitTops.filter(d => d > 0 && !unitTops.includes(d)).forEach(d => {
  dashedSpans.forEach(([a, b]) => hline(mid, a, b, d, "#6f6f6f", 1, "3,2"));
  hline(mid, X.lithC[1], X.unit[0], d, "#6f6f6f", 1, "3,2");
});
[29.2, 63.7, 388.5].forEach(d => hline(mid, X.recC[0], X.lithC[0], d, "#6f6f6f", 1, "3,2"));
hline(mid, X.lithB[1], X.unit[0], 349.5, "#6f6f6f", 1, "3,2");
unitTops.filter(d => d > 0).forEach(d => hline(mid, X.lithC[0], X.sal[1], d, "#444", 1));

// correlation lines between holes
[[[X.lithA[1], 27.2], [X.coreB[0], 29.2]], [[X.lithA[1], 61.8], [X.coreB[0], 63.7]], [[X.lithB[1], 360.3], [X.coreC[0], 388.5]]]
  .forEach(([p0, p1]) => mid.append("line")
    .attr("x1", p0[0]).attr("y1", depth(p0[1])).attr("x2", p1[0]).attr("y2", depth(p1[1]))
    .attr("stroke", "#555").attr("stroke-width", 0.9).attr("stroke-dasharray", "3,2"));

// inward depth ticks on each panel edge
[X.ms, X.ngr, X.sal].forEach(([l, r]) => {
  const ticks = d3.range(50, 901, 50);
  const a1 = mid.append("g").attr("transform", `translate(${l},0)`)
    .call(d3.axisRight(depth).tickValues(ticks).tickSize(4).tickFormat(""));
  const a2 = mid.append("g").attr("transform", `translate(${r},0)`)
    .call(d3.axisLeft(depth).tickValues(ticks).tickSize(4).tickFormat(""));
  [a1, a2].forEach(a => { a.select(".domain").remove(); a.selectAll("line").attr("stroke", "#111").attr("stroke-width", 1); });
});

// clip regions for the curves
const defs = svg.append("defs");
[["clipMS", X.ms], ["clipNGR", X.ngr]].forEach(([id, [l, r]]) => {
  defs.append("clipPath").attr("id", id).append("rect")
    .attr("x", l + 0.5).attr("y", TOP).attr("width", r - l - 0.5).attr("height", BOT - TOP);
});

function drawSeries(segments, xs, clip, color, width, opacity) {
  const line = d3.line().x(d => xs(d[1])).y(d => depth(d[0]));
  mid.append("g").attr("clip-path", `url(#${clip})`)
    .selectAll("path").data(segments).join("path")
    .attr("d", line).attr("fill", "none")
    .attr("stroke", color).attr("stroke-width", width)
    .attr("stroke-opacity", opacity).attr("stroke-linejoin", "round");
}
drawSeries(msHoleA, xMS, "clipMS", "#2b2b2b", 1.1, 0.9);
drawSeries(msHoleB, xMS, "clipMS", RED, 1.1, 0.9);
drawSeries(msHoleC, xMS, "clipMS", BLUE, 1.1, 0.9);
drawSeries(ngrHoleA, xNGR, "clipNGR", "#2b2b2b", 1.1, 0.9);
drawSeries(ngrHoleB, xNGR, "clipNGR", RED, 1.1, 0.9);
drawSeries(ngrHoleC, xNGR, "clipNGR", BLUE, 1.1, 0.9);

// salinity markers
const salG = over.append("g");
salG.selectAll("circle").data(salinityA).join("circle")
  .attr("cx", d => xSal(d[1])).attr("cy", d => depth(d[0])).attr("r", 4.2).attr("fill", GREEN);
salG.selectAll("rect.sq").data(salinityB).join("rect").attr("class", "sq")
  .attr("x", d => xSal(d[1]) - 4.2).attr("y", d => depth(d[0]) - 4.2)
  .attr("width", 8.4).attr("height", 8.4).attr("fill", LIME);
salG.selectAll("path.tri").data(salinityC).join("path").attr("class", "tri")
  .attr("transform", d => `translate(${xSal(d[1])},${depth(d[0])})`)
  .attr("d", d3.symbol(d3.symbolTriangle, 48)).attr("fill", TAN);

// ---------------------------------------------------------------------------
// Axes
// ---------------------------------------------------------------------------
const yAxis = over.append("g").attr("transform", "translate(77,0)")
  .call(d3.axisLeft(depth).tickValues(depthTicks).tickSize(5).tickPadding(3.5));
yAxis.select(".domain").remove();
yAxis.selectAll("text").attr("font-size", 14.5).attr("fill", "#111");
yAxis.selectAll("line").attr("stroke", "#111");
const yMinor = over.append("g").attr("transform", "translate(77,0)")
  .call(d3.axisLeft(depth).tickValues(d3.range(10, 901, 20)).tickSize(3).tickFormat(""));
yMinor.select(".domain").remove();
yMinor.selectAll("line").attr("stroke", "#111");

over.append("text").attr("transform", `translate(21,843) rotate(-90)`)
  .attr("text-anchor", "middle").attr("dominant-baseline", "central")
  .attr("font-size", 18.5).attr("fill", "#111").text("Depth CSF-A (m)");

function topAxis(scale, major, minor) {
  const a = over.append("g").attr("transform", `translate(0,${TOP})`)
    .call(d3.axisTop(scale).tickValues(major).tickSizeInner(-4).tickSizeOuter(0).tickPadding(6).tickFormat(d3.format("d")));
  a.select(".domain").remove();
  a.selectAll("text").attr("font-size", 12).attr("fill", "#111");
  a.selectAll("line").attr("stroke", "#111");
  const m = over.append("g").attr("transform", `translate(0,${TOP})`)
    .call(d3.axisTop(scale).tickValues(minor).tickSizeInner(-3).tickSizeOuter(0).tickFormat(""));
  m.select(".domain").remove();
  m.selectAll("line").attr("stroke", "#111");
}
topAxis(xMS, msTicks, d3.range(250, 2750, 500));
topAxis(xNGR, ngrTicks, d3.range(10, 151, 20));
topAxis(xSal, salTicks, [35, 45, 55, 65]);

// ---------------------------------------------------------------------------
// Headers and legends
// ---------------------------------------------------------------------------
const head = over.append("g");
[[115, holeNames[0]], [204, holeNames[1]], [295, holeNames[2]]].forEach(([x, s]) =>
  head.append("text").attr("x", x).attr("y", 24).attr("text-anchor", "middle").attr("font-size", 15).attr("fill", "#111").text(s));
[[X.coreA, X.recA, X.lithA], [X.coreB, X.recB, X.lithB], [X.coreC, X.recC, X.lithC]].forEach(cols =>
  cols.forEach((c, i) => vtext(head, (c[0] + c[1]) / 2, 96, columnTitles[i], 14.5, "start")));
vtext(head, (X.unit[0] + X.unit[1]) / 2, 96, "Lith. unit", 14.5, "start");
vtext(head, (X.sub[0] + X.sub[1]) / 2, 96, "Lith. subunit", 14.5, "start");

// lithology legend
const lithKinds = ["v", "o", "e"];
const legY = [10, 42.5, 73.5];
lithKinds.forEach((k, i) => {
  head.append("rect").attr("x", 411).attr("y", legY[i]).attr("width", 17.5).attr("height", 17.5)
    .attr("fill", FILL[k]).attr("stroke", "#555").attr("stroke-width", 0.8);
  legendLabels[i].forEach((s, j) => head.append("text").attr("x", 435).attr("y", legY[i] + 9 + j * 14.5)
    .attr("font-size", 13.5).attr("fill", "#111").text(s));
});

// curve titles
head.append("text").attr("x", 657).attr("y", 63).attr("text-anchor", "middle").attr("font-size", 15).attr("fill", "#111").text("Magnetic susceptibility");
const si = head.append("text").attr("x", 657).attr("y", 80).attr("text-anchor", "middle").attr("font-size", 15).attr("fill", "#111");
si.append("tspan").text("[10");
si.append("tspan").attr("dy", -5).attr("font-size", 10).text("-5");
si.append("tspan").attr("dy", 5).text(" SI]");
head.append("text").attr("x", 819).attr("y", 63).attr("text-anchor", "middle").attr("font-size", 15).attr("fill", "#111").text("Natural Gamma Ray");
head.append("text").attr("x", 819).attr("y", 80).attr("text-anchor", "middle").attr("font-size", 15).attr("fill", "#111").text("[cps]");
head.append("text").attr("x", 981).attr("y", 73).attr("text-anchor", "middle").attr("font-size", 15).attr("fill", "#111").text("Salinity");

// hole legend for the curves
head.append("rect").attr("x", 637).attr("y", 23).attr("width", 210).attr("height", 22)
  .attr("fill", "#fff").attr("stroke", "#666").attr("stroke-width", 1);
[["Hole A", "#111", 641.5, 692, "#2b2b2b"], ["Hole B", RED, 710, 756, RED], ["Hole C", "#3a6cc0", 778, 825, BLUE]]
  .forEach(([s, tc, tx, lx, lc]) => {
    head.append("text").attr("x", tx).attr("y", 39.5).attr("font-size", 13.5).attr("fill", tc).text(s);
    head.append("line").attr("x1", lx).attr("x2", lx + 14).attr("y1", 35).attr("y2", 35).attr("stroke", lc).attr("stroke-width", 2.4);
  });

// salinity legend
head.append("rect").attr("x", 923).attr("y", 13).attr("width", 128).attr("height", 34)
  .attr("fill", "#fff").attr("stroke", "#666").attr("stroke-width", 1);
function holeLabel(x, yy, letter, color) {
  const t = head.append("text").attr("x", x).attr("y", yy).attr("font-size", 13.5).attr("fill", "#333");
  t.append("tspan").text("Hole ");
  t.append("tspan").attr("fill", color).text(letter);
}
holeLabel(928, 27, "A", GREEN);
head.append("circle").attr("cx", 982).attr("cy", 22.5).attr("r", 4.2).attr("fill", GREEN);
holeLabel(928, 43, "B", LIME);
head.append("rect").attr("x", 977.8).attr("y", 34.3).attr("width", 8.4).attr("height", 8.4).attr("fill", LIME);
holeLabel(990, 43, "C", TAN);
head.append("path").attr("transform", "translate(1043,38.5)").attr("d", d3.symbol(d3.symbolTriangle, 48)).attr("fill", TAN);
</script>
</body>
</html>
